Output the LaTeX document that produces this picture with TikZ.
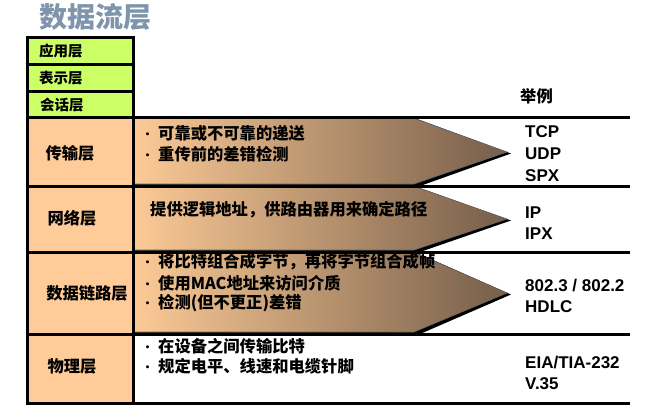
\documentclass[tikz,border=0pt]{standalone}
\usepackage{fontspec}
\setmainfont{Liberation Sans}
\newfontfamily\cjk{Noto Sans CJK SC}
\definecolor{titleblue}{HTML}{7F95AB}
\definecolor{greenc}{HTML}{CCFF66}
\definecolor{peach}{HTML}{FFCC99}
\definecolor{arrL}{HTML}{FCCA96}
\definecolor{arrM}{HTML}{D9AD84}
\definecolor{arrR}{HTML}{765E4A}
\newcommand{\bl}{\makebox[17pt][l]{\hspace{1pt}\raisebox{1pt}{\fontsize{11}{11}\selectfont •}}}
\begin{document}
\begin{tikzpicture}[x=1pt,y=-1pt,
  cell/.style={draw=black, line width=3pt},
  rule/.style={line width=3pt, line cap=rect},
  lbl/.style={font=\cjk\bfseries\fontsize{16.3}{18}\selectfont, text=black, inner sep=0pt},
  glbl/.style={font=\cjk\bfseries\fontsize{14.5}{16}\selectfont, text=black, inner sep=0pt, anchor=west},
  item/.style={lbl, anchor=west},
  ex/.style={font=\bfseries\fontsize{17}{19}\selectfont, anchor=west, inner sep=0pt},
  shade/.style={left color=arrL, middle color=arrM, right color=arrR, draw=black!60, line width=0.6pt}
]
\useasboundingbox (0,0) rectangle (647,406);
% title
\node[font=\cjk\bfseries\fontsize{28}{30}\selectfont, text=titleblue, anchor=west, inner sep=0pt] (title) at (39,17) {数据流层};
% arrows (shadow + gradient)
\foreach \t/\b in {118/186, 186/252, 252/334}{
  \pgfmathsetmacro{\m}{(\t+\b)/2}
  \fill[black] (133,\t) -- (417,\t+1) -- (511,\m+1.5) -- (420,\b) -- (133,\b) -- cycle;
  \path[shade] (133,\t) -- (413,\t) -- (507,\m) -- (414,\b-2) -- (133,\b-2) -- cycle;
}
% horizontal rules
\draw[rule] (133,118) -- (628,118);
\draw[rule] (133,186) -- (628,186);
\draw[rule] (133,252) -- (628,252);
\draw[rule] (133,334) -- (628,334);
\draw[rule] (27,403) -- (628,403);
% left column
\draw[cell, fill=greenc] (27,38) rectangle (133,65);
\draw[cell, fill=greenc] (27,65) rectangle (133,92);
\draw[cell, fill=greenc] (27,92) rectangle (133,118);
\draw[cell, fill=peach] (27,118) rectangle (133,186);
\draw[cell, fill=peach] (27,186) rectangle (133,252);
\draw[cell, fill=peach] (27,252) rectangle (133,334);
\draw[cell, fill=peach] (27,334) rectangle (133,403);
% green labels
\node[glbl] (app) at (39,51) {应用层};
\node[glbl] (pres) at (39,78) {表示层};
\node[glbl] (sess) at (40,105) {会话层};
% layer labels
\node[lbl] (trans) at (70,153) {传输层};
\node[lbl] (net) at (72,218) {网络层};
\node[lbl] (dll) at (87,293) {数据链路层};
\node[lbl] (phy) at (72,366) {物理层};
% descriptions
\node[item] (t1) at (141,133) {\bl 可靠或不可靠的递送};
\node[item] (t2) at (141,154) {\bl 重传前的差错检测};
\node[item] (n1) at (150,210) {提供逻辑地址，供路由器用来确定路径};
\node[item] (d1) at (141,262) {\bl 将比特组合成字节，再将字节组合成帧};
\node[item] (d2) at (141,283) {\bl 使用MAC地址来访问介质};
\node[item] (d3) at (141,303) {\bl 检测(但不更正)差错};
\node[item] (p1) at (141,346) {\bl 在设备之间传输比特};
\node[item] (p2) at (141,366) {\bl 规定电平、线速和电缆针脚};
% examples
\node[lbl, anchor=west] (exh) at (520,96) {举例};
\node[ex] (tcp) at (525,132) {TCP};
\node[ex] (udp) at (525,154) {UDP};
\node[ex] (spx) at (525,176) {SPX};
\node[ex] (ip) at (525,213) {IP};
\node[ex] (ipx) at (525,234) {IPX};
\node[ex] (e8023) at (525,286) {802.3 / 802.2};
\node[ex] (hdlc) at (525,307) {HDLC};
\node[ex] (eia) at (525,363) {EIA/TIA-232};
\node[ex] (v35) at (525,384) {V.35};
\end{tikzpicture}
\end{document}
